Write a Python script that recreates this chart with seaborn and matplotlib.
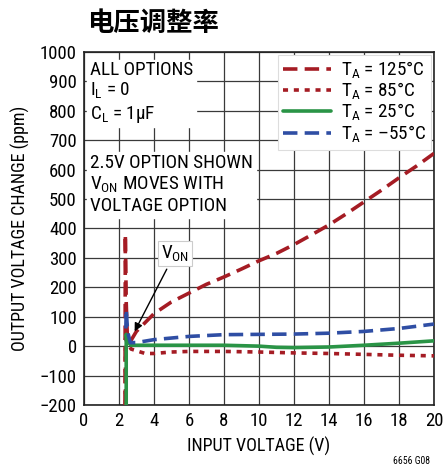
import matplotlib
matplotlib.use("Agg")
import matplotlib.pyplot as plt
import seaborn as sns
import pandas as pd
from matplotlib import font_manager

# ---- data ----
x_125 = [2.35, 2.37, 2.42, 2.48, 2.6, 3, 4, 5, 6, 7, 8, 9, 10, 11, 12, 13, 14, 15, 16, 17, 18, 19, 20]
y_125 = [-200, 380, 150, 40, 10, 50, 110, 150, 180, 210, 235, 262, 290, 315, 345, 378, 412, 450, 490, 530, 572, 612, 655]

x_85 = [2.38, 2.38, 2.5, 2.7, 3.5, 4, 5, 6, 8, 10, 12, 14, 16, 18, 20]
y_85 = [-200, 25, 10, -10, -25, -25, -20, -18, -18, -20, -23, -25, -28, -31, -33]

x_25 = [2.42, 2.42, 2.5, 2.7, 3, 4, 6, 8, 10, 11, 12, 14, 16, 18, 20]
y_25 = [-200, 40, 15, 3, 3, 3, 3, 3, 0, -4, -5, -3, 3, 10, 18]

x_m55 = [2.4, 2.42, 2.5, 2.65, 3, 4, 6, 8, 10, 12, 14, 16, 18, 20]
y_m55 = [60, 125, 50, 12, 12, 22, 33, 39, 40, 41, 44, 50, 60, 75]

labels = ["T$_\\mathregular{A}$ = 125°C", "T$_\\mathregular{A}$ = 85°C",
          "T$_\\mathregular{A}$ = 25°C", "T$_\\mathregular{A}$ = –55°C"]
xticks = list(range(0, 21, 2))
yticks = list(range(-200, 1001, 100))

# ---- style ----
sns.set_theme(style="whitegrid", rc={"grid.color": "#3a3a3a", "grid.linewidth": 0.9})
names = {f.name for f in font_manager.fontManager.ttflist}
base = "Liberation Sans"
for cand in ["Liberation Sans Narrow", "Roboto Condensed", "Open Sans Condensed"]:
    if cand in names:
        base = cand
        break
narrow = base != "Liberation Sans"
fs = 13 if narrow else 12.3
tfs = 13.5 if narrow else 12.5
box_fs = 13.8 if narrow else 12.3
plt.rcParams["font.family"] = [base, "DejaVu Sans"]
plt.rcParams["mathtext.fontset"] = "custom"
plt.rcParams["mathtext.rm"] = base
plt.rcParams["text.color"] = "black"
plt.rcParams["axes.labelcolor"] = "black"

fig = plt.figure(figsize=(4.46, 4.72), dpi=100)
ax = fig.add_axes([0.188, 0.142, 0.785, 0.748])

series = [
    (x_125, y_125, "#a51c24", (0, (4, 2.0)), labels[0]),
    (x_85, y_85, "#a51c24", (0, (1.4, 1.6)), labels[1]),
    (x_25, y_25, "#2a9446", "-", labels[2]),
    (x_m55, y_m55, "#2f4ea4", (0, (4, 2.0)), labels[3]),
]
for xs, ys, c, ls, lab in series:
    df = pd.DataFrame({"x": xs, "y": ys})
    sns.lineplot(data=df, x="x", y="y", ax=ax, color=c, linestyle=ls, lw=2.6,
                 sort=False, estimator=None, label=lab, zorder=3)

ax.set_xlim(0, 20)
ax.set_ylim(-200, 1000)
ax.set_xticks(xticks)
ax.set_yticks(yticks)
ax.xaxis.grid(True, color="#3a3a3a", linewidth=0.9, zorder=1)
ax.yaxis.grid(True, color="#3a3a3a", linewidth=0.9, zorder=1)
for s in ax.spines.values():
    s.set_color("#222222")
    s.set_linewidth(1.2)
ax.tick_params(labelsize=tfs, colors="black", length=0, pad=5)
ax.set_xlabel("INPUT VOLTAGE (V)", fontsize=fs, labelpad=5)
ax.set_ylabel("OUTPUT VOLTAGE CHANGE (ppm)", fontsize=fs, labelpad=7)

leg = ax.legend(loc="upper right", fontsize=box_fs, frameon=True, fancybox=False,
                handlelength=2.5, handletextpad=0.55, labelspacing=0.0,
                borderpad=0.25, borderaxespad=0.15)
leg.get_frame().set_edgecolor("#dddddd")
leg.get_frame().set_linewidth(0.8)
leg.get_frame().set_alpha(1)

bbox = dict(facecolor="white", edgecolor="white", pad=2)
ax.text(0.35, 970, "ALL OPTIONS\nI$_\\mathregular{L}$ = 0\nC$_\\mathregular{L}$ = 1µF",
        fontsize=box_fs, va="top", ha="left", linespacing=1.15, bbox=bbox, zorder=4)
ax.text(0.35, 652, "2.5V OPTION SHOWN\nV$_\\mathregular{ON}$ MOVES WITH\nVOLTAGE OPTION",
        fontsize=box_fs, va="top", ha="left", linespacing=1.15, bbox=bbox, zorder=4)

ax.annotate("V$_\\mathregular{ON}$", xy=(2.9, 50), xytext=(5.2, 315),
            fontsize=box_fs, ha="center", va="center", zorder=5,
            bbox=dict(facecolor="white", edgecolor="#cccccc", lw=0.8, pad=2),
            arrowprops=dict(arrowstyle="-|>", color="black", lw=1.0,
                            mutation_scale=12, shrinkA=2, shrinkB=0))

fig.text(0.195, 0.951, "电压调整率", fontsize=19, fontweight="bold",
         family=["Noto Sans CJK SC", "DejaVu Sans"], ha="left", va="center")
fig.text(0.965, 0.012, "6656 G08", fontsize=7, ha="right", va="bottom")

fig.savefig("out.png", dpi=100)
